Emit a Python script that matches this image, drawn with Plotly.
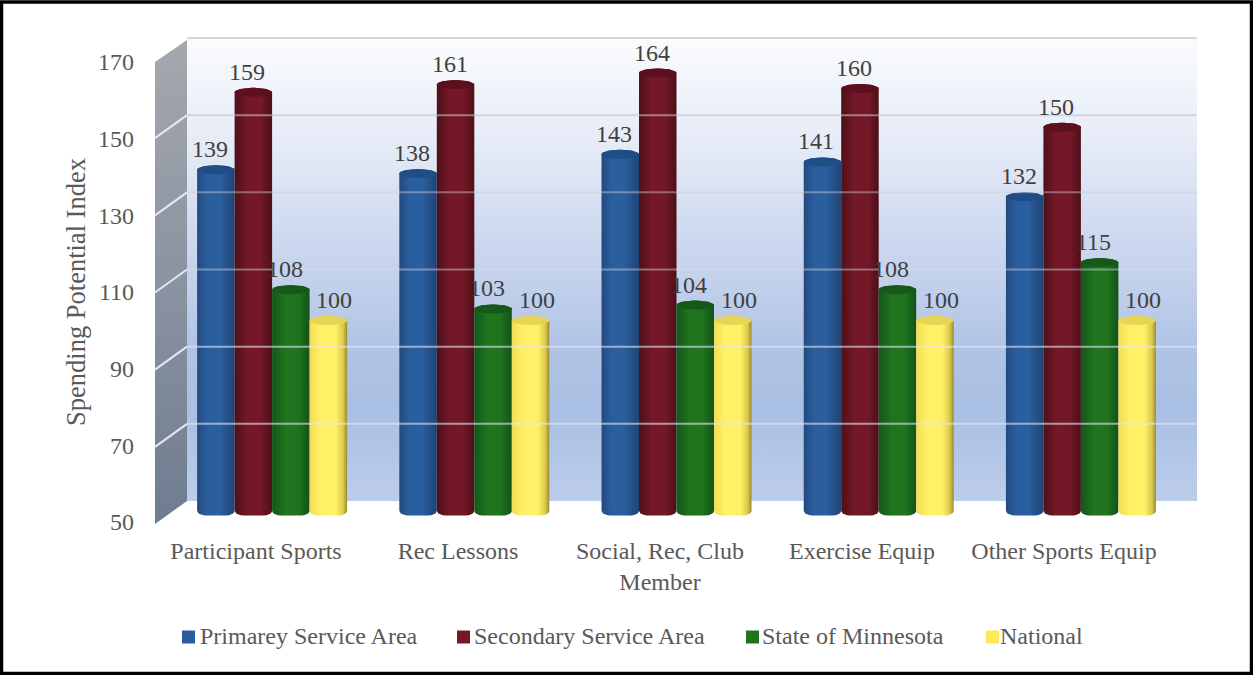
import plotly.graph_objects as go
import numpy as np

categories = ["Participant Sports", "Rec Lessons", "Social, Rec, Club<br>Member", "Exercise Equip", "Other Sports Equip"]
primary = [139, 138, 143, 141, 132]
secondary = [159, 161, 164, 160, 150]
minnesota = [108, 103, 104, 108, 115]
national = [100, 100, 100, 100, 100]
series_names = ["Primarey Service Area", "Secondary Service Area", "State of Minnesota", "National"]
series_values = [primary, secondary, minnesota, national]
y_ticks = [50, 70, 90, 110, 130, 150, 170]

W, H = 1253, 675
TXT = "#595959"
FONT = "Liberation Serif"
side_scales = [
    [[0, "#23497f"], [0.25, "#2a5d9c"], [0.6, "#2b5f9f"], [1, "#1f4474"]],
    [[0, "#4d1019"], [0.35, "#741827"], [0.7, "#741827"], [1, "#4d0f18"]],
    [[0, "#14561a"], [0.35, "#1f741d"], [0.7, "#1f741d"], [1, "#14521a"]],
    [[0, "#f2dd55"], [0.3, "#fff166"], [0.7, "#fff166"], [0.9, "#d9c84c"], [1, "#97892e"]],
]
cap_colors = ["#1f4d85", "#5c0f1d", "#15581a", "#e6d553"]
swatch_colors = ["#2a5d9c", "#741827", "#1f741d", "#ffe958"]
legend_x = [188.5, 463.5, 752.5, 992.5]
legend_text_x = [200, 474, 762, 1000]

fig = go.Figure()

# Pixel-space subplot: the chart's box (walls, gridlines, frame)
wall_xs = [187, 1197, 1197, 187, 187]
wall_ys = [38, 38, 501, 501, 38]
fig.add_trace(go.Scatter(x=wall_xs, y=wall_ys, mode="lines", line=dict(width=0), fill="toself",
    fillgradient=dict(type="vertical", colorscale=[[0, "#bccdea"], [0.2, "#a9bfe3"], [0.32, "#b0c3e5"],
        [0.55, "#cbd7ee"], [0.78, "#e6ecf7"], [1, "#fafbfd"]]),
    hoverinfo="skip", showlegend=False, xaxis="x", yaxis="y"))
fig.add_trace(go.Scatter(x=[155, 187, 187, 155, 155], y=[62, 40, 501, 524, 62], mode="lines", line=dict(width=0), fill="toself",
    fillgradient=dict(type="vertical", colorscale=[[0, "#6f7c90"], [0.5, "#8a93a1"], [1, "#a5a8ad"]]),
    hoverinfo="skip", showlegend=False, xaxis="x", yaxis="y"))
grid_colors = {70: "rgba(225,232,245,0.6)", 90: "rgba(225,232,245,0.6)", 110: "rgba(215,220,230,0.45)",
               130: "rgba(205,205,212,0.45)", 150: "rgba(195,195,200,0.6)", 170: "rgba(190,190,190,0.6)"}
for v in y_ticks[1:]:
    yb = 501 - (v - 50) * 463 / 120
    fig.add_shape(type="line", xref="x", yref="y", x0=187, x1=1197, y0=yb, y1=yb,
                  line=dict(color=grid_colors[v], width=2))
    if v < 170:
        fig.add_shape(type="line", xref="x", yref="y", x0=155, x1=187, y0=yb + 23, y1=yb, line=dict(color="#e6e9ef", width=2))

# Cylinders on the bar axes
bw = 37.5 / 202.25
t = np.linspace(0, np.pi, 24)
yu = 120 / 463.7
for s, (name, vals) in enumerate(zip(series_names, series_values)):
    for i, v in enumerate(vals):
        c = i + (s - 1.5) * bw
        r = bw / 2
        ex = c - r * np.cos(t)
        vc = v + 1.5 * yu
        top = vc + 4.5 * yu * np.sin(t)
        bottom = 50 + 4.5 * yu - 6 * yu * np.sin(t)
        xs = np.concatenate([ex, ex[::-1], [ex[0]]])
        ys = np.concatenate([top, bottom[::-1], [top[0]]])
        fig.add_trace(go.Scatter(x=xs, y=ys, mode="lines", line=dict(width=0), fill="toself",
            fillgradient=dict(type="horizontal", colorscale=side_scales[s]),
            name=name, hoverinfo="skip", showlegend=False, xaxis="x2", yaxis="y2"))
        capx = np.concatenate([ex, ex[::-1]])
        capy = np.concatenate([vc + 4.5 * yu * np.sin(t), vc - 4.5 * yu * np.sin(t[::-1])])
        fig.add_trace(go.Scatter(x=capx, y=capy, mode="lines", line=dict(width=0), fill="toself",
            fillcolor=cap_colors[s], hoverinfo="skip", showlegend=False, xaxis="x2", yaxis="y2"))

# Value labels
shift = [-6, -6, -6, 6]
for s, vals in enumerate(series_values):
    for i, v in enumerate(vals):
        fig.add_annotation(xref="x2", yref="y2", x=i + (s - 1.5) * bw, y=v, text=str(v), showarrow=False,
                           xshift=shift[s], yshift=22, font=dict(family=FONT, size=24, color="#404040"))

# Legend
for s, name in enumerate(series_names):
    fig.add_trace(go.Scatter(x=[legend_x[s]], y=[637], mode="markers",
        marker=dict(symbol="square", size=13, color=swatch_colors[s]),
        hoverinfo="skip", showlegend=False, xaxis="x", yaxis="y", cliponaxis=False))
    fig.add_trace(go.Scatter(x=[legend_text_x[s]], y=[638], mode="text", text=[name], textposition="middle right",
        textfont=dict(family=FONT, size=24, color=TXT), hoverinfo="skip", showlegend=False, xaxis="x", yaxis="y", cliponaxis=False))

# Frame
fig.add_shape(type="rect", xref="x", yref="y", x0=1.5, x1=1251.5, y0=2, y1=673.5, line=dict(color="black", width=3.5))

# Axes carrying the tick labels on the front plane
fig.add_trace(go.Scatter(x=[0, 4], y=[50, 170], mode="markers", marker=dict(opacity=0), hoverinfo="skip",
                         showlegend=False, xaxis="x3", yaxis="y3"))


def px_dom(a, b):
    return [a / W, b / W]


def py_dom(top, bottom):
    return [1 - bottom / H, 1 - top / H]


hidden = dict(visible=False, showgrid=False, zeroline=False, fixedrange=True)
fig.update_layout(
    width=W, height=H, margin=dict(l=0, r=0, t=0, b=0, autoexpand=False), paper_bgcolor="white", plot_bgcolor="rgba(0,0,0,0)",
    showlegend=False, font=dict(family=FONT, color=TXT),
    xaxis=dict(hidden, domain=[0, 1], range=[0, W]),
    yaxis=dict(hidden, domain=[0, 1], range=[H, 0]),
    xaxis2=dict(hidden, domain=px_dom(171, 1182), range=[-0.5, 4.5], anchor="y2"),
    yaxis2=dict(hidden, domain=py_dom(51.3, 515.5), range=[50, 170], anchor="x2"),
    xaxis3=dict(domain=px_dom(155, 1165), range=[-0.5, 4.5], anchor="y3", tickmode="array", tickvals=list(range(5)),
                ticktext=categories, showgrid=False, zeroline=False, showline=False, ticks="", fixedrange=True,
                tickfont=dict(family=FONT, size=24, color=TXT), ticklabelstandoff=12, tickangle=0),
    yaxis3=dict(domain=py_dom(62, 522), range=[50, 170], anchor="x3", tickmode="array", tickvals=y_ticks,
                ticktext=[str(v) for v in y_ticks], showgrid=False, zeroline=False, showline=False, ticks="", fixedrange=True,
                tickfont=dict(family=FONT, size=24, color=TXT), ticklabelstandoff=20,
                title=dict(text="Spending Potential Index", font=dict(family=FONT, size=26.5, color=TXT), standoff=4)),
)
fig.write_html("out.html", config=dict(displayModeBar=False),
               post_script="document.body.style.margin='0';document.body.style.overflow='hidden';")
